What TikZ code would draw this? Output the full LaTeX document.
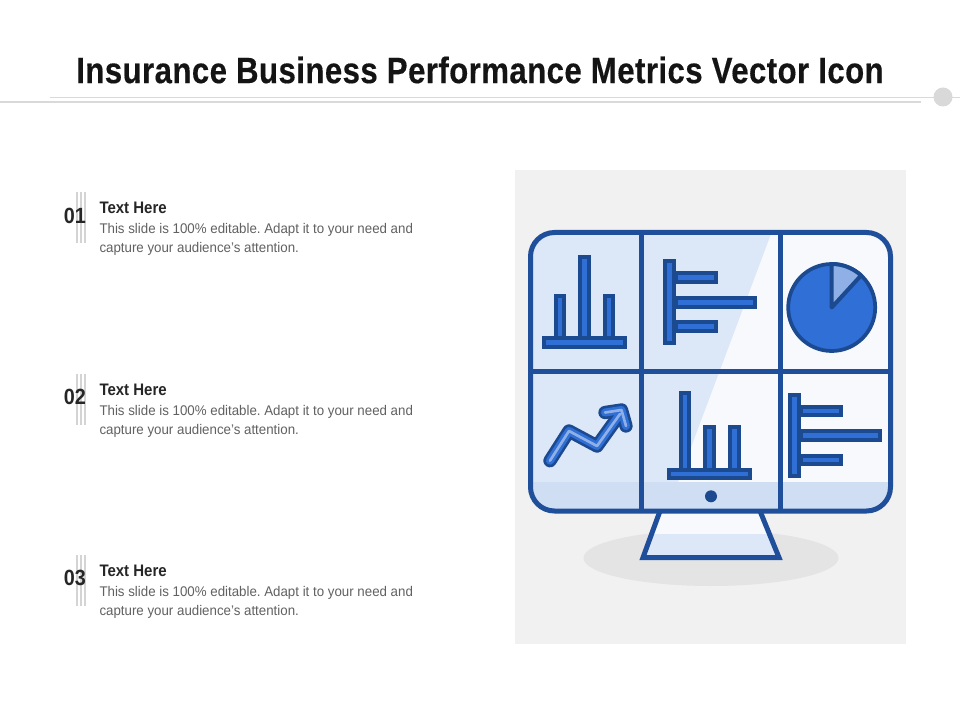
\documentclass[tikz,border=0pt]{standalone}
\usepackage{fontspec}
\setmainfont{Liberation Sans}
\newfontfamily\titlefont[FakeStretch=0.85,LetterSpace=1.2,BoldFeatures={FakeBold=0.3}]{Liberation Sans}
\newfontfamily\itemfont[FakeStretch=0.95]{Liberation Sans}
\newfontfamily\headfont[FakeStretch=0.9]{Liberation Sans}
\frenchspacing
\definecolor{framecol}{HTML}{1F4F9A}
\definecolor{linecol}{HTML}{1C4A90}
\definecolor{barcol}{HTML}{2F6FD6}
\definecolor{palecol}{HTML}{8FB0E6}
\definecolor{cellcol}{HTML}{DCE7F7}
\definecolor{stripcol}{HTML}{D0DEF3}
\definecolor{whitecol}{HTML}{F7F9FD}
\begin{document}
\begin{tikzpicture}
[x=0.75pt,y=-0.75pt, % one unit is one pixel of the reference
frame/.style={draw=framecol,line width=3.75pt},
bar/.style={draw=linecol,fill=barcol,line width=3pt},
rule/.style={draw=black!15,line width=0.6pt},
every node/.style={inner sep=0pt,outer sep=0pt,anchor=west}]
\useasboundingbox (0,0) rectangle (960,720);
\fill[white] (0,0) rectangle (960,720);
% header
\node[anchor=center,text=black!92] (title) at (480,70) {\titlefont\fontsize{27.5}{32}\bfseries Insurance Business Performance Metrics Vector Icon};
\draw[rule] (50,97.5) -- (960,97.5);
\draw[draw=black!15,line width=1.5pt] (0,102) -- (921,102);
\fill[black!15] (943,97) circle (9.5);
% three text items
\foreach \n/\y in {1/0,2/181.5,3/362.5}{
  \foreach \x in {77,81,85}
    \draw[draw=black!17,line width=1.1pt] (\x,192+\y) -- (\x,243+\y);
  \node[anchor=center,text=black!85] (num\n) at (75,215.5+\y) {\headfont\fontsize{16.5}{18}\bfseries 0\n};
  \node[text=black!85] (head\n) at (99.5,208+\y) {\headfont\fontsize{12.5}{14}\bfseries Text Here};
  \node[text=black!62,font=\itemfont\fontsize{10.5}{14.25}\selectfont,align=left] (body\n) at (99.5,239.5+\y) {This slide is 100\% editable. Adapt it to your need and\\capture your audience’s attention.};
}
% backdrop
\fill[black!5.5] (515,170) rectangle (906,644);
\fill[black!10.5] (711,558) ellipse (127.5 and 28);
% stand
\fill[whitecol] (660,511) -- (762,511) -- (779,557) -- (643,557) -- cycle;
\fill[cellcol] (652,534) -- (770.5,534) -- (779,557) -- (643,557) -- cycle;
\draw[frame,line join=miter] (660,511) -- (643,557.5) -- (779,557.5) -- (760,511);
% screen
\begin{scope}
\clip[rounded corners=18pt] (530.5,232.5) rectangle (890.5,511);
\fill[whitecol] (530,232) rectangle (891,512);
\fill[cellcol] (530,232) -- (771.7,232) -- (678,482) -- (530,482) -- cycle;
\fill[stripcol] (530,482) rectangle (891,512);
\end{scope}
\draw[frame,rounded corners=18pt] (530.5,232.5) rectangle (890.5,511);
\draw[frame] (641.3,232.5) -- (641.3,511);
\draw[frame] (780.7,232.5) -- (780.7,511);
\draw[frame] (530.5,371.3) -- (890.5,371.3);
\fill[linecol] (711,496.3) circle (6);
% top left chart
\draw[bar] (556,296) rectangle (564,338);
\draw[bar] (580,257) rectangle (589,338);
\draw[bar] (605,296) rectangle (613,338);
\draw[bar] (544,338) rectangle (625,347);
% top middle chart
\draw[bar] (676,273) rectangle (716,282);
\draw[bar] (676,298) rectangle (755,307);
\draw[bar] (676,322) rectangle (716,331);
\draw[bar] (665,261) rectangle (674,343);
% pie
\draw[fill=barcol,draw=linecol,line width=2.8pt] (831.7,307.5) circle (43.5);
\draw[fill=palecol,draw=linecol,line width=3pt,line join=round] (831.7,307.5) -- (831.7,264) arc (-90:-47.5:43.5) -- cycle;
% rising arrow
\foreach \w/\c in {10pt/linecol,6pt/barcol,2pt/palecol}{
  \draw[draw=\c,line width=\w,line cap=round,line join=round] (550,460.7) -- (569,431) -- (597,446) -- (620,414);
  \draw[draw=\c,line width=\w,line cap=round,line join=round] (605,412.5) -- (621.5,410) -- (626,426);
}
% bottom middle chart
\draw[bar] (681,393) rectangle (689,470);
\draw[bar] (705,427) rectangle (714,470);
\draw[bar] (730,427) rectangle (739,470);
\draw[bar] (669,470) rectangle (750,478);
% bottom right chart
\draw[bar] (801,407) rectangle (841,415);
\draw[bar] (801,431) rectangle (880,440);
\draw[bar] (801,456) rectangle (841,464);
\draw[bar] (790,395) rectangle (799,476);
\end{tikzpicture}
\end{document}
